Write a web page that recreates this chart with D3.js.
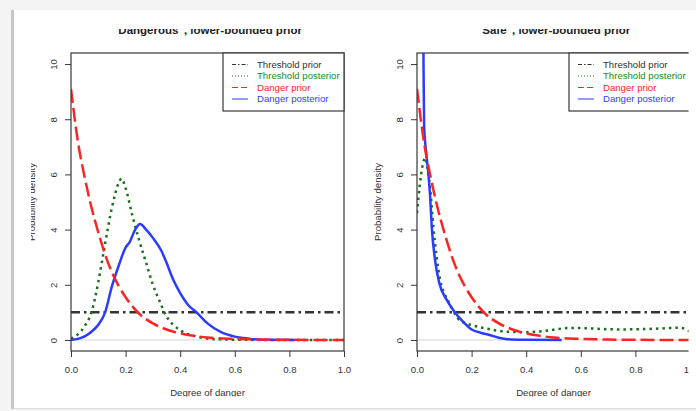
<!DOCTYPE html>
<html>
<head>
<meta charset="utf-8">
<script src="https://cdn.jsdelivr.net/npm/d3@7"></script>
<style>
  body { margin: 0; background: #f4f4f4; }
  svg { display: block; font-family: "Liberation Sans", Arial, sans-serif; }
</style>
</head>
<body>
<script>
// values
const seriesNames = ["Threshold prior", "Threshold posterior", "Danger prior", "Danger posterior"];
const panelTitles = ['"Dangerous", lower-bounded prior', '"Safe", lower-bounded prior'];
const xTicks = [0, 0.2, 0.4, 0.6, 0.8, 1];
const yTicks = [0, 2, 4, 6, 8, 10];

// threshold prior is flat (same in both panels)
const thresholdPriorX = [0, 1];
const thresholdPriorY = [1, 1];

// danger prior (same in both panels)
const dangerPriorX = [0, 0.025, 0.05, 0.075, 0.1, 0.125, 0.15, 0.175, 0.2, 0.25, 0.3, 0.35, 0.4, 0.45, 0.5, 0.6, 0.7, 0.8, 0.9, 1.0];
const dangerPriorY = [9.1, 7.2, 5.9, 4.8, 3.9, 3.1, 2.45, 1.95, 1.55, 0.95, 0.6, 0.38, 0.24, 0.15, 0.09, 0.04, 0.015, 0.005, 0, 0];

// "Dangerous" panel posteriors
const dangerousThrPostX = [0, 0.025, 0.05, 0.075, 0.1, 0.125, 0.15, 0.175, 0.185, 0.2, 0.225, 0.25, 0.275, 0.3, 0.325, 0.35, 0.375, 0.4, 0.45, 0.5, 0.55, 0.6, 0.7, 0.8, 0.9, 1.0];
const dangerousThrPostY = [0.05, 0.2, 0.5, 1.0, 2.1, 3.5, 4.8, 5.7, 5.85, 5.5, 4.5, 3.6, 2.8, 2.0, 1.4, 0.85, 0.55, 0.35, 0.15, 0.05, 0.02, 0.01, 0, 0, 0, 0];
const dangerousDangerPostX = [0, 0.025, 0.05, 0.075, 0.1, 0.125, 0.15, 0.175, 0.2, 0.215, 0.235, 0.253, 0.275, 0.3, 0.33, 0.35, 0.375, 0.4, 0.43, 0.46, 0.5, 0.55, 0.6, 0.65, 0.7, 0.82];
const dangerousDangerPostY = [0, 0.04, 0.13, 0.3, 0.55, 1.0, 1.95, 2.7, 3.35, 3.55, 4.0, 4.2, 4.0, 3.7, 3.25, 2.8, 2.17, 1.7, 1.26, 1.0, 0.6, 0.28, 0.12, 0.05, 0.01, 0];

// "Safe" panel posteriors
const safeThrPostX = [0, 0.01, 0.02, 0.03, 0.04, 0.048, 0.06, 0.072, 0.085, 0.097, 0.11, 0.125, 0.15, 0.175, 0.2, 0.25, 0.3, 0.35, 0.4, 0.45, 0.5, 0.55, 0.6, 0.65, 0.7, 0.75, 0.8, 0.85, 0.9, 0.95, 0.97, 1.0];
const safeThrPostY = [4.6, 5.6, 6.3, 6.6, 6.1, 5.5, 4.1, 3.0, 2.17, 1.75, 1.5, 1.2, 0.78, 0.62, 0.54, 0.42, 0.33, 0.29, 0.28, 0.31, 0.37, 0.43, 0.43, 0.41, 0.39, 0.38, 0.39, 0.4, 0.42, 0.44, 0.43, 0.3];
const safeDangerPostX = [0.022, 0.024, 0.026, 0.033, 0.042, 0.048, 0.054, 0.066, 0.082, 0.109, 0.133, 0.17, 0.2, 0.23, 0.266, 0.3, 0.33, 0.4, 0.53];
const safeDangerPostY = [14, 9.8, 7.8, 6.85, 6.0, 5.2, 4.1, 2.9, 2.05, 1.45, 1.08, 0.65, 0.38, 0.27, 0.18, 0.08, 0.03, 0.01, 0];

function zip(xs, ys) { return xs.map(function(v, i) { return [v, ys[i]]; }); }

var styles = [
  { color: "#333333", text: "#333333", dash: "9,4,2.5,4", legendDash: "4,2,1.5,2" },
  { color: "#1a6f1a", text: "#228b22", dash: "2.5,4", legendDash: "1,2" },
  { color: "#ff2424", text: "#ff2424", dash: "14,5", legendDash: "6,3" },
  { color: "#2a3cff", text: "#2f3fff", dash: null, legendDash: null }
];

var panels = [
  { offset: 0, title: panelTitles[0],
    series: [zip(thresholdPriorX, thresholdPriorY), zip(dangerousThrPostX, dangerousThrPostY),
             zip(dangerPriorX, dangerPriorY), zip(dangerousDangerPostX, dangerousDangerPostY)] },
  { offset: 346, title: panelTitles[1],
    series: [zip(thresholdPriorX, thresholdPriorY), zip(safeThrPostX, safeThrPostY),
             zip(dangerPriorX, dangerPriorY), zip(safeDangerPostX, safeDangerPostY)] }
];

// layout (one panel, before offset)
var W = 696, H = 411;
var plot = { left: 71, right: 344, top: 53, bottom: 351 };

var svg = d3.select("body").append("svg").attr("width", W).attr("height", H);

// window frame of the screenshot
svg.append("rect").attr("width", W).attr("height", H).attr("fill", "#f4f4f4");
svg.append("rect").attr("x", 11).attr("y", 10).attr("width", 3).attr("height", 399).attr("fill", "#c6c6c6");
svg.append("rect").attr("x", 14).attr("y", 10).attr("width", W - 14).attr("height", 398).attr("fill", "#fff");
svg.append("line").attr("x1", 14).attr("x2", W).attr("y1", 408.5).attr("y2", 408.5).attr("stroke", "#dedede");

var defs = svg.append("defs");
defs.append("clipPath").attr("id", "view").append("rect")
  .attr("x", 31).attr("y", 29).attr("width", 657.5).attr("height", 367.5);
defs.append("clipPath").attr("id", "plotArea").append("rect")
  .attr("x", plot.left).attr("y", plot.top)
  .attr("width", plot.right - plot.left).attr("height", plot.bottom - plot.top);

var view = svg.append("g").attr("clip-path", "url(#view)");

var x = d3.scaleLinear().domain([0, 1]).range([plot.left, plot.right]);
var y = d3.scaleLinear().domain([-0.4, 10.4]).range([plot.bottom, plot.top]);

var line = d3.line()
  .x(function(d) { return x(d[0]); })
  .y(function(d) { return y(d[1]); })
  .curve(d3.curveMonotoneX);

// drawing order: threshold prior, threshold posterior, danger posterior, danger prior
var drawOrder = [0, 1, 3, 2];

panels.forEach(function(p) {
  var g = view.append("g").attr("transform", "translate(" + p.offset + ",0)");

  // zero reference line
  g.append("line")
    .attr("x1", x(0)).attr("x2", x(1)).attr("y1", y(0)).attr("y2", y(0))
    .attr("stroke", "#d4d4d4").attr("stroke-width", 1);

  var curves = g.append("g").attr("clip-path", "url(#plotArea)");
  drawOrder.forEach(function(i) {
    curves.append("path")
      .datum(p.series[i])
      .attr("d", line)
      .attr("fill", "none")
      .attr("stroke", styles[i].color)
      .attr("stroke-width", 2.5)
      .attr("stroke-dasharray", styles[i].dash);
  });

  // box
  g.append("rect")
    .attr("x", plot.left).attr("y", plot.top)
    .attr("width", plot.right - plot.left).attr("height", plot.bottom - plot.top)
    .attr("fill", "none").attr("stroke", "#383838").attr("stroke-width", 1.2);

  // y axis
  var yAxis = g.append("g")
    .attr("transform", "translate(" + plot.left + ",0)")
    .call(d3.axisLeft(y).tickValues(yTicks).tickSize(6).tickSizeOuter(0));
  yAxis.select(".domain").remove();
  yAxis.selectAll("line").attr("stroke", "#383838");
  yAxis.selectAll("text")
    .attr("transform", "rotate(-90)")
    .attr("x", 0).attr("y", -14).attr("dy", null)
    .attr("text-anchor", "middle")
    .attr("font-size", "9.6px").attr("fill", "#333");

  // x axis
  var xAxis = g.append("g")
    .attr("transform", "translate(0," + plot.bottom + ")")
    .call(d3.axisBottom(x).tickValues(xTicks).tickFormat(d3.format(".1f"))
      .tickSize(6).tickSizeOuter(0).tickPadding(9));
  xAxis.select(".domain").remove();
  xAxis.selectAll("line").attr("stroke", "#383838");
  xAxis.selectAll("text").attr("font-size", "9.6px").attr("fill", "#333");

  // labels
  var cx = (plot.left + plot.right) / 2;
  g.append("text")
    .attr("x", cx).attr("y", 33.5)
    .attr("text-anchor", "middle")
    .attr("font-size", "11.5px").attr("font-weight", "bold").attr("fill", "#222")
    .text(p.title);
  g.append("text")
    .attr("x", cx).attr("y", 395.5)
    .attr("text-anchor", "middle")
    .attr("font-size", "9.6px").attr("fill", "#333")
    .text("Degree of danger");
  g.append("text")
    .attr("transform", "translate(34.5," + (plot.top + plot.bottom) / 2 + ") rotate(-90)")
    .attr("text-anchor", "middle")
    .attr("font-size", "9.6px").attr("fill", "#333")
    .text("Probability density");

  // legend
  var lg = g.append("g");
  lg.append("rect")
    .attr("x", 223).attr("y", plot.top)
    .attr("width", plot.right - 223).attr("height", 58)
    .attr("fill", "#fff").attr("stroke", "#383838").attr("stroke-width", 1.2);
  seriesNames.forEach(function(name, i) {
    var ly = 64.5 + i * 11.5;
    lg.append("line")
      .attr("x1", 232).attr("x2", 248).attr("y1", ly).attr("y2", ly)
      .attr("stroke", styles[i].color).attr("stroke-width", 1)
      .attr("stroke-dasharray", styles[i].legendDash);
    lg.append("text")
      .attr("x", 257).attr("y", ly).attr("dy", "0.35em")
      .attr("font-size", "9.6px").attr("fill", styles[i].text)
      .text(name);
  });
});
</script>
</body>
</html>
